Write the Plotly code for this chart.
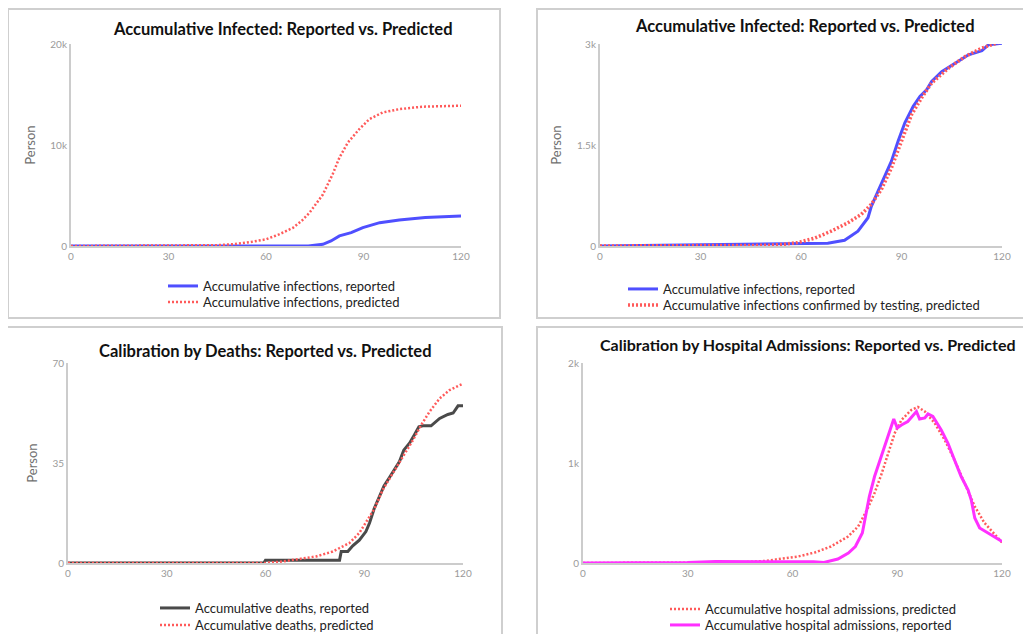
import plotly.graph_objects as go

W, H = 1031, 634
OFF = 8  # the page body adds an 8px offset; positions below are in screenshot pixels

# ---------- Data ----------
# Panel 1: accumulative infected (all), reported vs predicted
p1_rep_days = [0, 30, 60, 73, 77.5, 80, 82.6, 86.2, 89.8, 95, 101, 109, 120]
p1_rep_vals = [0, 0, 0, 0, 165, 500, 1000, 1320, 1820, 2310, 2580, 2810, 2975]
p1_pred_days = [0, 30, 45, 50, 55, 60, 64, 68.3, 71, 73.4, 75.5, 77.5, 79, 80.5, 82.6, 85.2, 88.7, 91.8, 95.9, 101, 108, 120]
p1_pred_vals = [0, 20, 80, 180, 380, 660, 1150, 1800, 2500, 3300, 4200, 5100, 6100, 7100, 8760, 10250, 11570, 12560, 13220, 13550, 13790, 13890]

# Panel 2: accumulative infected confirmed by testing
p2_rep_days = [0, 30, 45, 60, 68, 73, 77, 80, 81, 83, 85, 87, 89, 91, 93.5, 95.5, 97.5, 99, 102, 106, 110, 114, 116, 120]
p2_rep_vals = [0, 15, 25, 30, 40, 85, 220, 420, 590, 815, 1040, 1260, 1560, 1830, 2075, 2220, 2320, 2445, 2590, 2715, 2840, 2900, 2990, 3010]
p2_pred_days = [0, 30, 50, 55, 59, 64, 69, 74, 78, 81, 84, 87, 90, 93, 96, 99, 104, 109, 114, 120]
p2_pred_vals = [0, 0, 10, 25, 50, 115, 220, 345, 470, 620, 840, 1160, 1555, 1950, 2200, 2420, 2640, 2815, 2940, 3040]

# Panel 3: accumulative deaths
p3_rep_days = [0, 59.5, 60, 82.5, 83, 85, 86.5, 88.5, 90.5, 91.6, 93, 94.6, 96, 97.7, 99.2, 100.7, 102, 103.8, 105.3, 106.6, 107.8, 110.3, 112.9, 115.4, 117, 118.5, 120]
p3_rep_vals = [0, 0, 1, 1, 4, 4, 6, 8, 11, 14, 19, 23, 27, 30, 33, 35.5, 39.5, 42, 45, 47.7, 48, 48, 50.6, 52, 52.5, 55, 55]
p3_pred_days = [0, 60, 65, 70.3, 75.4, 80.4, 85.5, 88.5, 90.6, 93.1, 95.6, 98.7, 101.7, 104.8, 107.3, 109.8, 112.9, 115.9, 120]
p3_pred_vals = [0, 0, 0.5, 1.4, 2.3, 4, 7, 10.5, 14.5, 19, 25.6, 31.4, 37.2, 43, 48.3, 52.9, 57.6, 60.5, 62.8]

# Panel 4: hospital admissions
p4_pred_days = [0, 30, 45, 52, 57, 61.6, 66.4, 71, 75.9, 78.8, 81.6, 83.5, 85.4, 87.4, 89.3, 91.2, 94, 95.9, 97.9, 100.7, 103.6, 106.4, 109.3, 112.2, 115, 117.9, 120]
p4_pred_vals = [0, 0, 5, 20, 40, 65, 105, 165, 265, 365, 550, 700, 880, 1100, 1300, 1430, 1530, 1560, 1515, 1400, 1230, 1030, 800, 565, 400, 283, 205]
p4_rep_days = [0, 30, 38, 50, 66, 69, 73, 76, 78, 80, 80.7, 82, 83.5, 85.4, 87.4, 89, 90, 91.2, 93, 94.5, 95.5, 96.4, 97.9, 98.8, 100.2, 102.6, 104.5, 106.4, 108.3, 110.3, 111.2, 112.2, 113.6, 116, 118.4, 120]
p4_rep_vals = [0, 5, 15, 15, 12, 5, 40, 100, 165, 300, 430, 665, 865, 1065, 1265, 1440, 1350, 1380, 1415, 1480, 1515, 1440, 1450, 1490, 1465, 1330, 1200, 1030, 865, 730, 630, 450, 350, 300, 250, 215]

x_ticks = [0, 30, 60, 90, 120]

BLUE = "#4f4fff"
RED = "#ff5a5a"
DARK = "#4a4a4a"
MAGENTA = "#ff30ff"
AXIS = "#cccccc"
TICK = "#9a9a9a"

fig = go.Figure()

def px_x(p):
    return (p - OFF) / W

def px_y(p):
    return 1 - (p - OFF) / H

panels = [
    # (axis suffix, x0px, x1px, ytop px, ybottom px, yrange, tickvals, ticktext, ytitle)
    ("", 71, 461, 44, 246, [0, 20000], [0, 10000, 20000], ["0", "10k", "20k"], "Person"),
    ("2", 600, 1002, 44, 246, [0, 3000], [0, 1500, 3000], ["0", "1.5k", "3k"], "Person"),
    ("3", 68, 463, 363, 563, [0, 70], [0, 35, 70], ["0", "35", "70"], "Person"),
    ("4", 583, 1002, 363, 563, [0, 2000], [0, 1000, 2000], ["0", "1k", "2k"], None),
]

legend_rows = {}

def add(days, vals, name, color, dash, width, idx, legend, text_x, row_y):
    suf = panels[idx][0]
    fig.add_trace(go.Scatter(
        x=days, y=vals, mode="lines", name=name, showlegend=True,
        line=dict(color=color, dash=dash, width=width),
        xaxis="x" + suf, yaxis="y" + suf, legend=legend,
    ))
    legend_rows[legend] = (text_x, row_y)

DOT = "2px,2px"
add(p1_rep_days, p1_rep_vals, "Accumulative infections, reported", BLUE, "solid", 3, 0, "legend", 203, 286)
add(p1_pred_days, p1_pred_vals, "Accumulative infections, predicted", RED, DOT, 2.5, 0, "legend2", 203, 302)
add(p2_rep_days, p2_rep_vals, "Accumulative infections, reported", BLUE, "solid", 3, 1, "legend3", 663, 289)
add(p2_pred_days, p2_pred_vals, "Accumulative infections confirmed by testing, predicted", RED, DOT, 3.5, 1, "legend4", 663, 305)
add(p3_rep_days, p3_rep_vals, "Accumulative deaths, reported", DARK, "solid", 3, 2, "legend5", 195, 608)
add(p3_pred_days, p3_pred_vals, "Accumulative deaths, predicted", RED, DOT, 2.5, 2, "legend6", 195, 625)
add(p4_pred_days, p4_pred_vals, "Accumulative hospital admissions, predicted", RED, DOT, 2.5, 3, "legend7", 705, 609)
add(p4_rep_days, p4_rep_vals, "Accumulative hospital admissions, reported", MAGENTA, "solid", 3, 3, "legend8", 705, 625)

layout = dict(
    width=W, height=H, showlegend=True,
    margin=dict(l=0, r=0, t=0, b=0, autoexpand=False),
    paper_bgcolor="white", plot_bgcolor="white",
    font=dict(family="Lato, Open Sans, sans-serif", color="#222"),
)

for suf, x0, x1, yt, yb, yr, tv, tt, ytitle in panels:
    layout["xaxis" + suf] = dict(
        domain=[px_x(x0), px_x(x1)], range=[0, 120], anchor="y" + suf,
        tickvals=x_ticks, showgrid=False, zeroline=False, automargin=False,
        showline=True, linecolor=AXIS, linewidth=2,
        tickfont=dict(size=10, color=TICK), ticks="", ticklabelstandoff=0,
    )
    layout["yaxis" + suf] = dict(
        domain=[px_y(yb), px_y(yt)], range=yr, anchor="x" + suf,
        tickvals=tv, ticktext=tt, showgrid=False, zeroline=False, automargin=False,
        showline=True, linecolor=AXIS, linewidth=2,
        tickfont=dict(size=10, color=TICK), ticks="",
        title=dict(text=ytitle, font=dict(size=13, color="#6f6f6f"), standoff=12) if ytitle else None,
    )

legend_common = dict(
    xanchor="left", yanchor="middle", bgcolor="rgba(0,0,0,0)",
    font=dict(size=13, color="#222"), itemwidth=30, visible=True,
)
for lg, (tx, ry) in legend_rows.items():
    layout[lg] = dict(x=px_x(tx - 40), y=px_y(ry), **legend_common)

fig.update_layout(**layout)

# Panel borders
for (x0, y0, x1, y1) in [(8, 9, 500, 318), (537, 9, 1045, 318), (7, 327, 502, 650), (537, 327, 1045, 650)]:
    fig.add_shape(type="rect", xref="paper", yref="paper",
                  x0=px_x(x0), x1=px_x(x1), y0=px_y(y1), y1=px_y(y0),
                  line=dict(color="#cfcfcf", width=2), layer="below")

titles = [
    ("Accumulative Infected: Reported vs. Predicted", 283, 29, 16.5),
    ("Accumulative Infected: Reported vs. Predicted", 805, 26, 16.5),
    ("Calibration by Deaths: Reported vs. Predicted", 265, 351, 16.5),
    ("Calibration by Hospital Admissions: Reported vs. Predicted", 808, 344, 16),
]
for text, cx, cy, fs in titles:
    fig.add_annotation(text="<b>" + text + "</b>", xref="paper", yref="paper",
                       x=px_x(cx), y=px_y(cy), xanchor="center", yanchor="middle",
                       showarrow=False, font=dict(size=fs, color="#111", family="Lato, sans-serif"))

fig.write_html("out.html")
